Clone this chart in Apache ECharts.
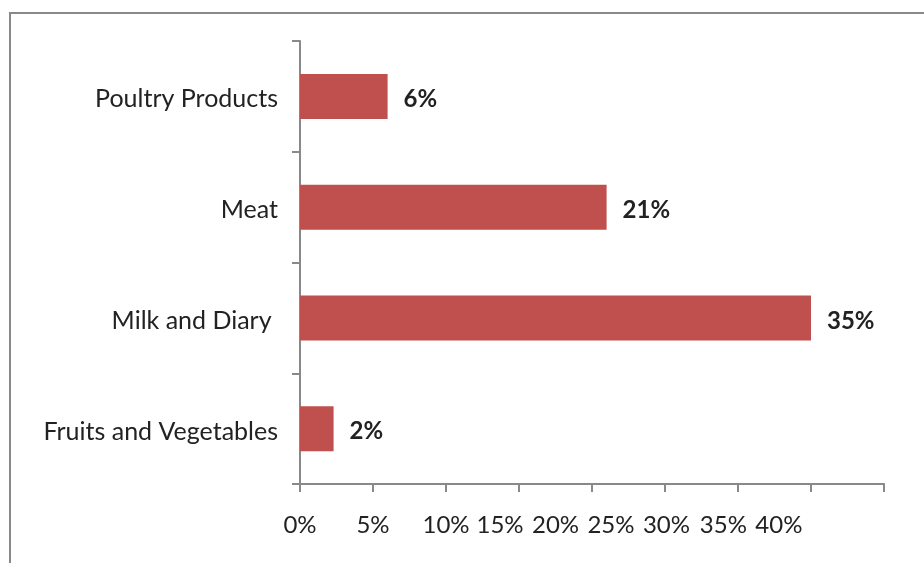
<!DOCTYPE html>
<html>
<head>
<meta charset="utf-8">
<script src="https://cdn.jsdelivr.net/npm/echarts@6/dist/echarts.min.js"></script>
<style>
  html, body { margin: 0; padding: 0; background: #fff; }
  #wrap { position: relative; width: 924px; height: 563px; overflow: hidden; }
  #frame { position: absolute; left: 9px; top: 12px; width: 940px; height: 580px;
           border-left: 2px solid #898989; border-top: 2px solid #898989; }
  #chart { position: absolute; left: 0; top: 0; width: 924px; height: 563px; }
</style>
</head>
<body>
<div id="wrap">
  <div id="frame"></div>
  <div id="chart"></div>
</div>
<script>
// categories bottom -> top, as the category axis runs
const categories = ['Fruits and Vegetables', 'Milk and Diary ', 'Meat', 'Poultry Products'];
const shares = [2.3, 35, 21, 6];

// x-axis ticks and the tick labels (the labels sit squeezed to the left in the original)
const tickValues = [0, 5, 10, 15, 20, 25, 30, 35, 40];
const tickLabels = ['0%', '5%', '10%', '15%', '20%', '25%', '30%', '35%', '40%'];
const labelSpots = [0, 5, 10, 13.7, 17.5, 21.3, 25.1, 29, 32.8];

const axisGrey = '#898989';
const textDark = '#222222';
const fontName = 'Lato';

const chart = echarts.init(document.getElementById('chart'));

const option = {
  animation: false,
  grid: { left: 300, right: 40, top: 41, bottom: 79 },
  xAxis: {
    type: 'value',
    min: 0,
    max: 40,
    interval: 5,
    axisLine: { show: true, lineStyle: { color: axisGrey, width: 2 } },
    axisTick: { show: true, length: 8, customValues: tickValues, lineStyle: { color: axisGrey, width: 2 } },
    splitLine: { show: false },
    axisLabel: {
      customValues: labelSpots,
      margin: 29,
      color: textDark,
      fontFamily: fontName,
      fontSize: 24,
      formatter: (v) => tickLabels[labelSpots.indexOf(v)]
    }
  },
  yAxis: {
    type: 'category',
    data: categories,
    axisLine: { show: true, lineStyle: { color: axisGrey, width: 2 } },
    axisTick: { show: true, length: 8, lineStyle: { color: axisGrey, width: 2 } },
    axisLabel: {
      margin: 22,
      formatter: (v) => '{c|' + v + '}',
      rich: {
        c: {
          padding: [6, 0, 0, 0],
          color: textDark,
          fontFamily: fontName,
          fontSize: 25
        }
      }
    }
  },
  series: [
    {
      type: 'bar',
      data: shares,
      barWidth: 45,
      itemStyle: { color: '#c0504d' },
      label: {
        show: true,
        position: 'right',
        distance: 16,
        offset: [0, 3],
        color: textDark,
        fontFamily: fontName,
        fontWeight: 'bold',
        fontSize: 24,
        formatter: (p) => Math.round(p.value) + '%'
      }
    }
  ]
};

chart.setOption(option);
</script>
</body>
</html>
